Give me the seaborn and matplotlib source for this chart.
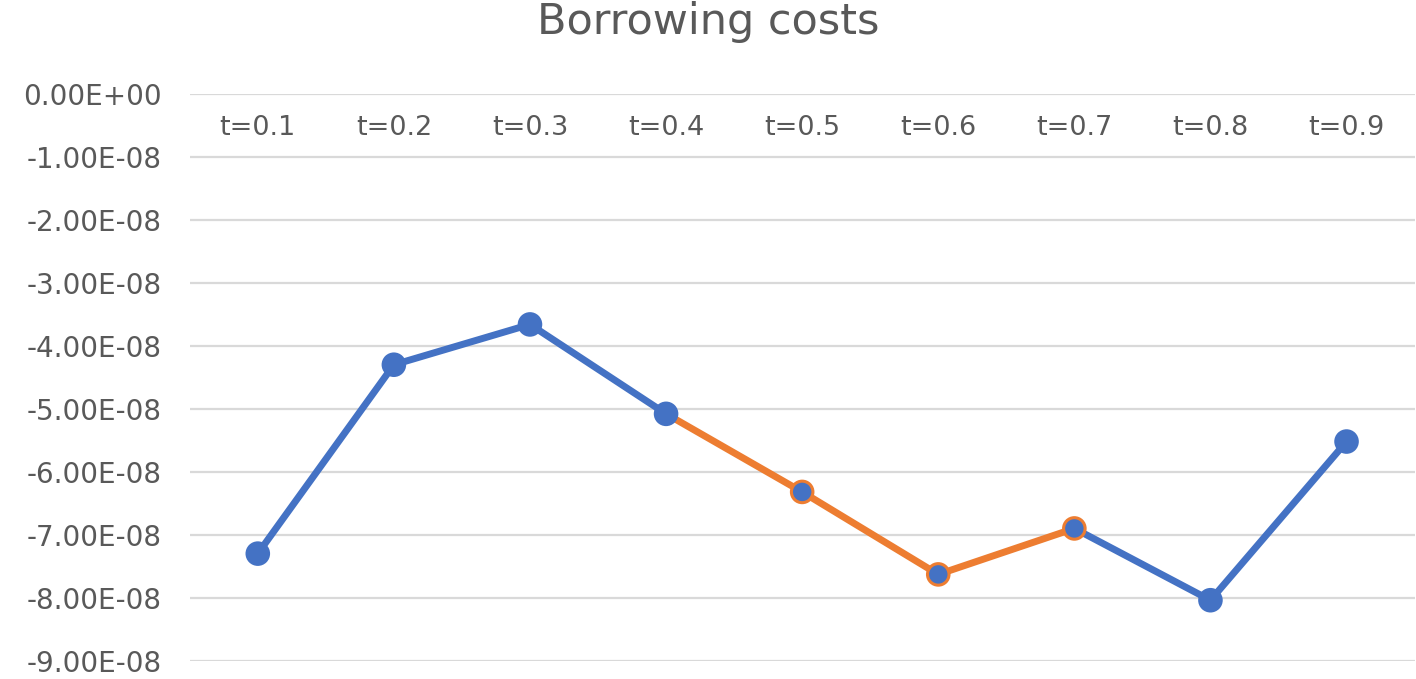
import matplotlib
matplotlib.use("Agg")
import matplotlib.pyplot as plt
import seaborn as sns
import pandas as pd

categories = ["t=0.1", "t=0.2", "t=0.3", "t=0.4", "t=0.5", "t=0.6", "t=0.7", "t=0.8", "t=0.9"]
values = [-7.30e-8, -4.30e-8, -3.66e-8, -5.08e-8, -6.32e-8, -7.63e-8, -6.90e-8, -8.04e-8, -5.52e-8]
# segment colouring: which segment each line piece belongs to
segments = [("A", 0, 3), ("B", 3, 6), ("C", 6, 8)]
highlight_points = ["t=0.5", "t=0.6", "t=0.7"]
yticks = [0, -1e-8, -2e-8, -3e-8, -4e-8, -5e-8, -6e-8, -7e-8, -8e-8, -9e-8]

BLUE = "#4472C4"
ORANGE = "#ED7D31"
TEXT = "#595959"

sns.set_theme(style="white")
plt.rcParams['font.family'] = ['DejaVu Sans']

rows = []
for name, i0, i1 in segments:
    for i in range(i0, i1 + 1):
        rows.append({"seg": name, "pos": i, "value": values[i]})
line_df = pd.DataFrame(rows)

pts = pd.DataFrame({"pos": range(len(categories)), "value": values, "cat": categories})

fig = plt.figure(figsize=(14.16, 6.79), dpi=100)
ax = fig.add_axes([0.134, 0.027, 0.865, 0.8346])

sns.lineplot(data=line_df, x="pos", y="value", hue="seg",
             palette={"A": BLUE, "B": ORANGE, "C": BLUE},
             linewidth=5, legend=False, ax=ax, zorder=3, estimator=None)

edge = [ORANGE if c in highlight_points else BLUE for c in categories]
sns.scatterplot(data=pts, x="pos", y="value", color=BLUE, s=240,
                edgecolor=edge, linewidth=2.2, ax=ax, zorder=4, legend=False)

ax.set_xlim(-0.5, len(categories) - 0.5)
ax.set_ylim(-9e-8, 0)
ax.set_yticks(yticks)
ax.set_yticklabels(["0.00E+00" if v == 0 else "-%.2fE-08" % (abs(v) / 1e-8) for v in yticks])
ax.set_xticks(range(len(categories)))
ax.set_xticklabels(categories)
ax.tick_params(axis="x", bottom=False, labelbottom=False, top=False, labeltop=True,
               pad=-34, labelsize=19.5, labelcolor=TEXT, length=0)
ax.tick_params(axis="y", labelsize=20, labelcolor=TEXT, length=0, pad=20)
ax.grid(axis="y", color="#D9D9D9", linewidth=1.6)
ax.set_axisbelow(True)
for s in ax.spines.values():
    s.set_visible(False)
ax.set_xlabel("")
ax.set_ylabel("")

fig.suptitle("Borrowing costs", y=0.998, fontsize=31, color=TEXT)

fig.savefig("out.png", dpi=100)
